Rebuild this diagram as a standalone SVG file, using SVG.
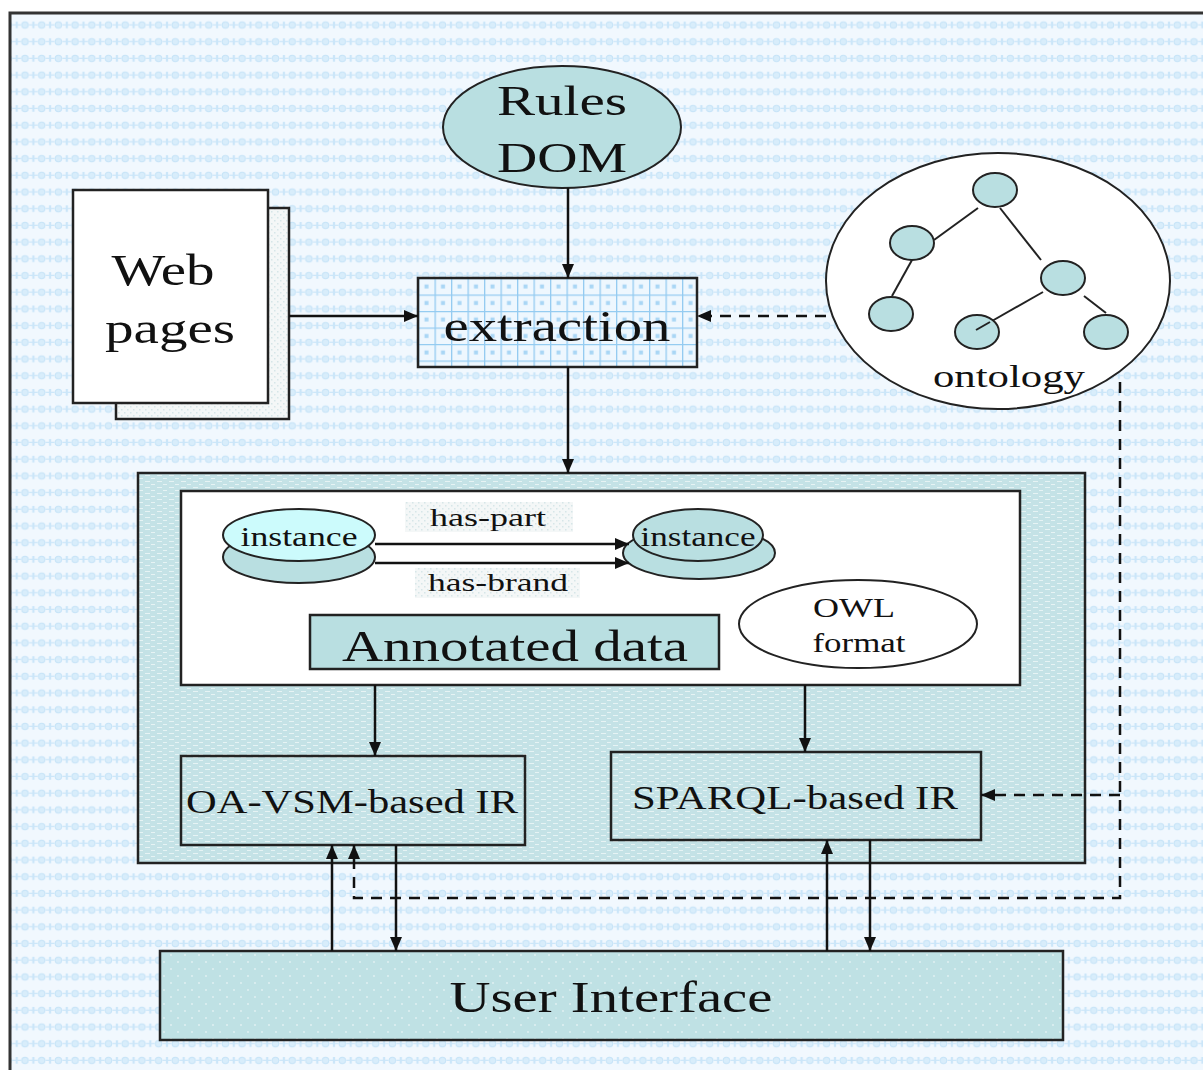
<svg xmlns="http://www.w3.org/2000/svg" width="1203" height="1070" viewBox="0 0 1203 1070">
  <defs>
    <!-- pale blue wallpaper of the frame -->
    <pattern id="bgPat" width="16.7" height="16.7" patternUnits="userSpaceOnUse">
      <rect width="16.7" height="16.7" fill="#f1f8fe"/>
      <circle cx="8.3" cy="8.3" r="3.2" fill="#d8edfb" stroke="#c6e4f8" stroke-width="1"/>
      <path d="M0 8.3H4.5M12.2 8.3H16.7M0.5 5V11.6M16.2 5V11.6" stroke="#cbe6f9" stroke-width="1.2"/>
    </pattern>
    <!-- teal brick texture of the processing area -->
    <pattern id="tealPat" width="12" height="6" patternUnits="userSpaceOnUse">
      <rect width="12" height="6" fill="#c4e2e6"/>
      <path d="M1 1.5H6M7 4.5H11" stroke="#e6f3f4" stroke-width="1"/>
    </pattern>
    <!-- blue grid of the extraction box -->
    <pattern id="gridPat" x="418" y="278" width="16.5" height="16.5" patternUnits="userSpaceOnUse">
      <rect width="16.5" height="16.5" fill="#eef7fe"/>
      <path d="M0 0.6H16.5M0.6 0V16.5" stroke="#94cbf1" stroke-width="1.4"/>
      <rect x="6.5" y="6.5" width="4" height="4" fill="#a9d6f5"/>
    </pattern>
    <!-- dotted teal of the user interface bar -->
    <pattern id="dotPat" width="14" height="14" patternUnits="userSpaceOnUse">
      <rect width="14" height="14" fill="#bfe1e4"/>
      <circle cx="3" cy="3" r="0.9" fill="#e4f2f3"/>
      <circle cx="10" cy="10" r="0.9" fill="#e4f2f3"/>
    </pattern>
    <!-- speckled grey of the back sheet and edge labels -->
    <pattern id="speckPat" width="6" height="6" patternUnits="userSpaceOnUse">
      <rect width="6" height="6" fill="#f4f7f7"/>
      <rect x="1" y="1" width="1.5" height="1.5" fill="#d6e6e8"/>
      <rect x="4" y="4" width="1.5" height="1.5" fill="#d6e6e8"/>
    </pattern>
    <marker id="arrow" viewBox="0 0 14 12" refX="14" refY="6" markerWidth="14" markerHeight="12" markerUnits="userSpaceOnUse" orient="auto">
      <path d="M0 0L14 6L0 12Z" fill="#111"/>
    </marker>
    <style>
      .serif { font-family: "Liberation Serif", "Times New Roman", serif; fill: #111; text-anchor: middle; }
      .box { stroke: #222; stroke-width: 2.5; }
      .line { stroke: #111; stroke-width: 2.5; fill: none; }
      .dash { stroke: #111; stroke-width: 2.5; fill: none; stroke-dasharray: 11 8; }
      .thin { stroke: #222; stroke-width: 2; }
      .teal { fill: #b9dfe1; }
    </style>
  </defs>

  <!-- frame -->
  <rect x="0" y="0" width="1203" height="1070" fill="#ffffff"/>
  <rect x="10" y="13" width="1200" height="1070" fill="url(#bgPat)" stroke="#333" stroke-width="3"/>

  <!-- processing area -->
  <g id="processing-area">
    <rect x="138" y="473" width="947" height="390" fill="url(#tealPat)" class="box"/>
  </g>

  <g id="annotated-store">
    <rect x="181" y="491" width="839" height="194" fill="#ffffff" class="box"/>
  </g>

  <g id="rules-dom">
    <ellipse cx="562" cy="127" rx="119" ry="61" class="teal thin"/>
    <text x="562" y="115" class="serif" font-size="43" textLength="130" lengthAdjust="spacingAndGlyphs">Rules</text>
    <text x="562" y="172" class="serif" font-size="43" textLength="130" lengthAdjust="spacingAndGlyphs">DOM</text>
  </g>

  <g id="web-pages">
    <rect x="116" y="208" width="173" height="211" fill="url(#speckPat)" class="box"/>
    <rect x="73" y="190" width="195" height="213" fill="#ffffff" class="box"/>
    <text x="163" y="285" class="serif" font-size="44" textLength="103" lengthAdjust="spacingAndGlyphs">Web</text>
    <text x="170" y="343" class="serif" font-size="44" textLength="130" lengthAdjust="spacingAndGlyphs">pages</text>
  </g>

  <g id="extraction">
    <rect x="418" y="278" width="279" height="89" fill="url(#gridPat)" class="box"/>
    <text x="557" y="341" class="serif" font-size="44" textLength="227" lengthAdjust="spacingAndGlyphs">extraction</text>
  </g>

  <g id="ontology">
    <ellipse cx="998" cy="281" rx="172" ry="128" fill="#ffffff" class="thin"/>
    <g class="thin">
      <line x1="978" y1="208" x2="934" y2="240"/>
      <line x1="1000" y1="208" x2="1041" y2="260"/>
      <line x1="912" y1="260" x2="892" y2="296"/>
      <line x1="1043" y1="292" x2="985" y2="325"/>
      <line x1="1084" y1="296" x2="1106" y2="313"/>
    </g>
    <g class="teal thin">
      <ellipse cx="995" cy="190" rx="22" ry="17"/>
      <ellipse cx="912" cy="243" rx="22" ry="17"/>
      <ellipse cx="891" cy="314" rx="22" ry="17"/>
      <ellipse cx="1063" cy="278" rx="22" ry="17"/>
      <ellipse cx="977" cy="332" rx="22" ry="17"/>
      <ellipse cx="1106" cy="332" rx="22" ry="17"/>
    </g>
    <line x1="990" y1="322" x2="976" y2="330" class="thin"/>
    <text x="1009" y="387" class="serif" font-size="31" textLength="152" lengthAdjust="spacingAndGlyphs">ontology</text>
  </g>

  <g id="instance-a">
    <ellipse cx="299" cy="557" rx="76" ry="26" class="teal thin"/>
    <ellipse cx="299" cy="535" rx="76" ry="26" fill="#ccfbfc" class="thin"/>
    <text x="299" y="546" class="serif" font-size="27" textLength="117" lengthAdjust="spacingAndGlyphs">instance</text>
  </g>

  <g id="instance-b">
    <ellipse cx="699" cy="553" rx="76" ry="26" class="teal thin"/>
    <ellipse cx="698" cy="535" rx="65" ry="26" class="teal thin"/>
    <text x="698" y="546" class="serif" font-size="27" textLength="115" lengthAdjust="spacingAndGlyphs">instance</text>
  </g>

  <g id="edge-labels">
    <rect x="405" y="502" width="168" height="30" fill="url(#speckPat)"/>
    <text x="488" y="526" class="serif" font-size="26" textLength="116" lengthAdjust="spacingAndGlyphs">has-part</text>
    <rect x="415" y="568" width="165" height="30" fill="url(#speckPat)"/>
    <text x="498" y="591" class="serif" font-size="26" textLength="140" lengthAdjust="spacingAndGlyphs">has-brand</text>
  </g>

  <g id="annotated-data">
    <rect x="310" y="615" width="409" height="54" class="teal box"/>
    <text x="515" y="661" class="serif" font-size="45" textLength="346" lengthAdjust="spacingAndGlyphs">Annotated data</text>
  </g>

  <g id="owl-format">
    <ellipse cx="858" cy="624" rx="119" ry="44" fill="#ffffff" class="thin"/>
    <text x="854" y="617" class="serif" font-size="27" textLength="82" lengthAdjust="spacingAndGlyphs">OWL</text>
    <text x="859" y="652" class="serif" font-size="27" textLength="93" lengthAdjust="spacingAndGlyphs">format</text>
  </g>

  <g id="oa-vsm-ir">
    <rect x="181" y="756" width="344" height="89" fill="url(#tealPat)" class="box"/>
    <text x="352" y="813" class="serif" font-size="34" textLength="332" lengthAdjust="spacingAndGlyphs">OA-VSM-based IR</text>
  </g>

  <g id="sparql-ir">
    <rect x="611" y="752" width="370" height="88" fill="url(#tealPat)" class="box"/>
    <text x="795" y="809" class="serif" font-size="34" textLength="326" lengthAdjust="spacingAndGlyphs">SPARQL-based IR</text>
  </g>

  <g id="user-interface">
    <rect x="160" y="951" width="903" height="89" fill="url(#dotPat)" class="box"/>
    <text x="611" y="1012" class="serif" font-size="44" textLength="323" lengthAdjust="spacingAndGlyphs">User Interface</text>
  </g>

  <!-- connectors -->
  <g id="connectors">
    <line x1="568" y1="188" x2="568" y2="278" class="line" marker-end="url(#arrow)"/>
    <line x1="289" y1="316" x2="418" y2="316" class="line" marker-end="url(#arrow)"/>
    <line x1="826" y1="316" x2="697" y2="316" class="dash" marker-end="url(#arrow)"/>
    <line x1="568" y1="367" x2="568" y2="473" class="line" marker-end="url(#arrow)"/>

    <line x1="375" y1="544" x2="629" y2="544" class="line" marker-end="url(#arrow)"/>
    <line x1="375" y1="563" x2="629" y2="563" class="line" marker-end="url(#arrow)"/>

    <line x1="375" y1="685" x2="375" y2="756" class="line" marker-end="url(#arrow)"/>
    <line x1="805" y1="685" x2="805" y2="752" class="line" marker-end="url(#arrow)"/>

    <!-- ontology feed into both retrieval modules -->
    <polyline points="1120,382 1120,898 354,898 354,845" class="dash" marker-end="url(#arrow)"/>
    <line x1="1120" y1="795" x2="981" y2="795" class="dash" marker-end="url(#arrow)"/>

    <line x1="332" y1="951" x2="332" y2="845" class="line" marker-end="url(#arrow)"/>
    <line x1="396" y1="845" x2="396" y2="951" class="line" marker-end="url(#arrow)"/>
    <line x1="827" y1="951" x2="827" y2="840" class="line" marker-end="url(#arrow)"/>
    <line x1="870" y1="840" x2="870" y2="951" class="line" marker-end="url(#arrow)"/>
  </g>
</svg>
